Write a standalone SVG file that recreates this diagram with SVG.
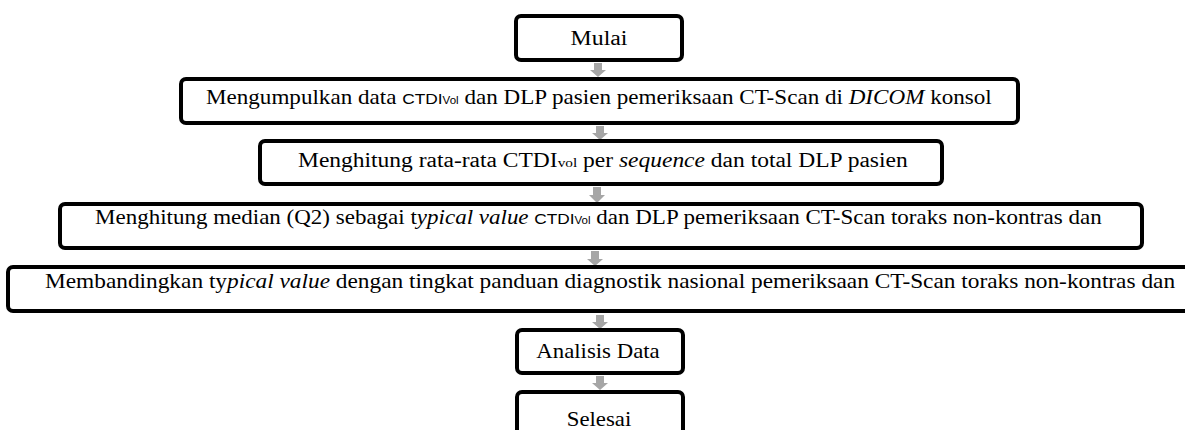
<svg xmlns="http://www.w3.org/2000/svg" width="1185" height="430" viewBox="0 0 1185 430">
<style>
.box{fill:#fff;stroke:#000;stroke-width:4;}
.t{font-family:"Liberation Serif","Times New Roman",serif;font-size:20px;fill:#000;}
.i{font-style:italic;}
.s{font-family:"Liberation Sans",Arial,sans-serif;font-size:15px;}
.sub{font-family:"Liberation Sans",Arial,sans-serif;font-size:10px;}
.vs{font-size:13px;}
.arr{fill:#a6a6a6;}
</style>
<rect width="1185" height="430" fill="#fff"/>
<g id="connectors">
<path class="arr" d="M594,63 h8 v7 h4 l-8,7 l-8,-7 h4 z"/>
<path class="arr" d="M596,126 h8 v7 h4 l-8,7 l-8,-7 h4 z"/>
<path class="arr" d="M593,187 h8 v8 h4 l-8,8 l-8,-8 h4 z"/>
<path class="arr" d="M591,251 h8 v8 h4 l-8,7 l-8,-7 h4 z"/>
<path class="arr" d="M596,315 h8 v7 h4 l-8,7 l-8,-7 h4 z"/>
<path class="arr" d="M596,376 h8 v7 h4 l-8,7 l-8,-7 h4 z"/>
</g>
<g id="n1">
<rect class="box" x="516" y="16" width="166" height="44" rx="5"/>
<text class="t" transform="translate(599,45) scale(1.19,1)" text-anchor="middle">Mulai</text>
</g>
<g id="n2">
<rect class="box" x="181" y="79" width="837" height="44" rx="5"/>
<text class="t" transform="translate(206,104) scale(1.155,1)">Mengumpulkan data <tspan class="s">CTDI</tspan><tspan class="sub">Vol</tspan> dan DLP pasien pemeriksaan CT-Scan di <tspan class="i">DICOM</tspan> konsol</text>
</g>
<g id="n3">
<rect class="box" x="260" y="141" width="682" height="43" rx="5"/>
<text class="t" transform="translate(298,167) scale(1.175,1)">Menghitung rata-rata CTDI<tspan class="vs">vol</tspan> per <tspan class="i">sequence</tspan> dan total DLP pasien</text>
</g>
<g id="n4">
<rect class="box" x="60" y="204" width="1082" height="44" rx="5"/>
<text class="t" transform="translate(95,224) scale(1.15,1)">Menghitung median (Q2) sebagai t<tspan class="i">ypical value</tspan> <tspan class="s">CTDI</tspan><tspan class="sub">Vol</tspan> dan DLP pemeriksaan CT-Scan toraks non-kontras dan</text>
</g>
<g id="n5">
<rect class="box" x="8" y="267" width="1182" height="44" rx="5"/>
<text class="t" transform="translate(45,288) scale(1.167,1)">Membandingkan ty<tspan class="i">pical value</tspan> dengan tingkat panduan diagnostik nasional pemeriksaan CT-Scan toraks non-kontras dan</text>
</g>
<g id="n6">
<rect class="box" x="517" y="330" width="166" height="43" rx="5"/>
<text class="t" transform="translate(598,358) scale(1.14,1)" text-anchor="middle">Analisis Data</text>
</g>
<g id="n7">
<rect class="box" x="517" y="392" width="166" height="50" rx="5"/>
<text class="t" transform="translate(599,426) scale(1.14,1)" text-anchor="middle">Selesai</text>
</g>
</svg>
